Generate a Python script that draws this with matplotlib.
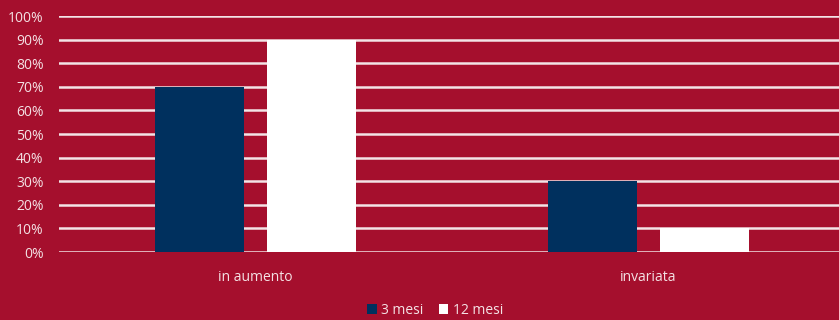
import matplotlib
matplotlib.use("Agg")
import matplotlib.pyplot as plt
import numpy as np
from matplotlib.patches import Patch

categories = ["in aumento", "invariata"]
series_names = ["3 mesi", "12 mesi"]
values_3m = [70, 30]
values_12m = [90, 10]
y_ticks = [0, 10, 20, 30, 40, 50, 60, 70, 80, 90, 100]
y_tick_labels = [f"{t}%" for t in y_ticks]

bg = "#A50F2D"
navy = "#00305E"
white = "#FFFFFF"
text_col = "#F4E1E4"

plt.rcParams["font.family"] = ["Open Sans", "DejaVu Sans"]

W, H = 839, 320
fig = plt.figure(figsize=(W / 100, H / 100), dpi=100, facecolor=bg)
ax = fig.add_axes([59 / W, 1 - 252 / H, 786 / W, 236 / H], facecolor=bg)

x = np.arange(len(categories))
bw = 0.224
off = 0.1425
ax.bar(x - off, values_3m, bw, color=navy, zorder=3, label=series_names[0])
ax.bar(x + off, values_12m, bw, color=white, zorder=3, label=series_names[1])

ax.set_xlim(-0.5, 1.5)
ax.set_ylim(0, 100)
ax.set_yticks(y_ticks)
ax.set_yticklabels(y_tick_labels)
ax.set_xticks(x)
ax.set_xticklabels(categories)
ax.yaxis.grid(True, color="#F3E3E6", linewidth=1.8, zorder=0)
ax.set_axisbelow(True)
ax.tick_params(axis="y", length=0, pad=11, colors=text_col, labelsize=10)
ax.tick_params(axis="x", length=0, pad=13, colors=text_col, labelsize=10)
for s in ax.spines.values():
    s.set_visible(False)

handles = [Patch(facecolor=navy, edgecolor="none"), Patch(facecolor=white, edgecolor="none")]
leg = fig.legend(handles, series_names, loc="center", bbox_to_anchor=(435 / W, 1 - 310 / H),
                 ncol=2, frameon=False, fontsize=10, handlelength=0.7, handleheight=0.7,
                 handletextpad=0.3, columnspacing=1.1, labelcolor=text_col)

fig.savefig("out.png", dpi=100, facecolor=bg)
